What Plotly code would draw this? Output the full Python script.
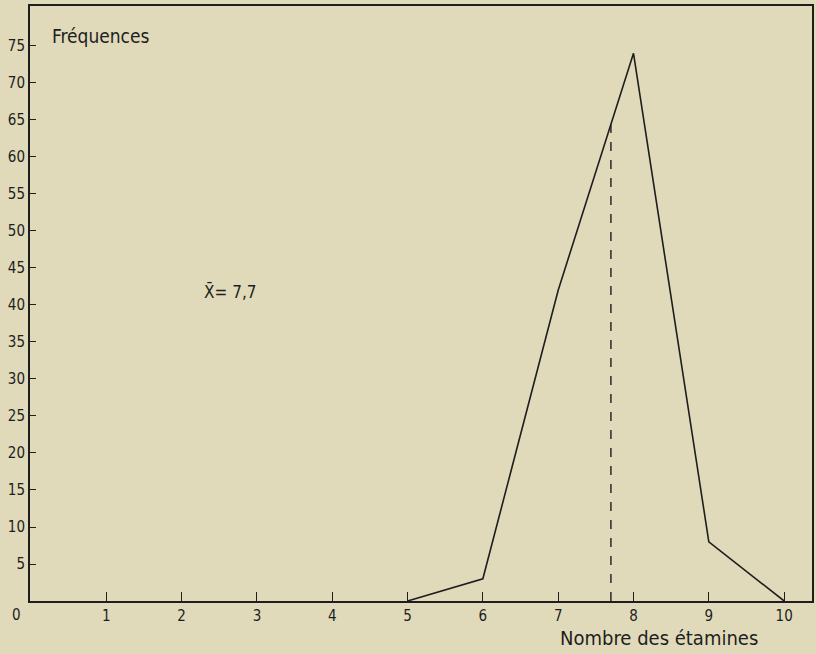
import plotly.graph_objects as go

# Data
stamens = [5, 6, 7, 8, 9, 10]
frequencies = [0, 3, 42, 74, 8, 0]
mean_value = 7.7
x_ticks = [1, 2, 3, 4, 5, 6, 7, 8, 9, 10]
y_ticks = [5, 10, 15, 20, 25, 30, 35, 40, 45, 50, 55, 60, 65, 70, 75]

# height of polygon at the mean (interpolated through the polygon's own segments)
def poly_at(x):
    for i in range(len(stamens) - 1):
        if stamens[i] <= x <= stamens[i + 1]:
            t = (x - stamens[i]) / (stamens[i + 1] - stamens[i])
            return frequencies[i] + t * (frequencies[i + 1] - frequencies[i])
    return 0

bg = "rgb(224,218,186)"
font_family = "DejaVu Sans Condensed"
ink = "#1e1e1e"

fig = go.Figure()
fig.add_trace(go.Scatter(x=stamens, y=frequencies, mode="lines",
                         line=dict(color=ink, width=1.6), showlegend=False))
fig.add_trace(go.Scatter(x=[mean_value, mean_value], y=[0, poly_at(mean_value)],
                         mode="lines", line=dict(color=ink, width=1.4, dash="dash"),
                         showlegend=False))

fig.update_layout(
    width=816, height=654,
    margin=dict(l=30, r=4, t=6, b=53),
    paper_bgcolor=bg, plot_bgcolor=bg,
    font=dict(family=font_family, size=15, color=ink),
    xaxis=dict(range=[-0.013, 10.37], tickvals=x_ticks, ticktext=[str(v) for v in x_ticks],
               ticks="inside", ticklen=9, tickwidth=1.2, tickcolor=ink,
               showline=True, linecolor=ink, linewidth=2, mirror=True,
               showgrid=False, zeroline=False, tickfont=dict(size=15),
               automargin=False),
    yaxis=dict(range=[0, 80.4], tickvals=y_ticks, ticktext=[str(v) for v in y_ticks],
               ticks="inside", ticklen=6, tickwidth=1.2, tickcolor=ink,
               showline=True, linecolor=ink, linewidth=2, mirror=True,
               showgrid=False, zeroline=False, tickfont=dict(size=15),
               automargin=False),
    annotations=[
        dict(x=0, y=0, xref="x", yref="y", text="0", showarrow=False,
             xshift=-14, yshift=-3, yanchor="top", font=dict(size=15)),
        dict(x=0.025, y=76.4, xref="paper", yref="y", text="Fréquences", showarrow=False,
             xanchor="left", yanchor="middle", font=dict(size=19)),
        dict(x=0.933, y=0, xref="paper", yref="paper", text="Nombre des étamines",
             showarrow=False, xanchor="right", yanchor="top", yshift=-23,
             font=dict(size=20)),
        dict(x=2.27, y=41.8, xref="x", yref="y", text="X̄= 7,7", showarrow=False,
             xanchor="left", yanchor="middle", font=dict(size=17)),
    ],
)

fig.write_html("out.html", config={"displayModeBar": False},
               post_script="document.body.style.margin='0';")
